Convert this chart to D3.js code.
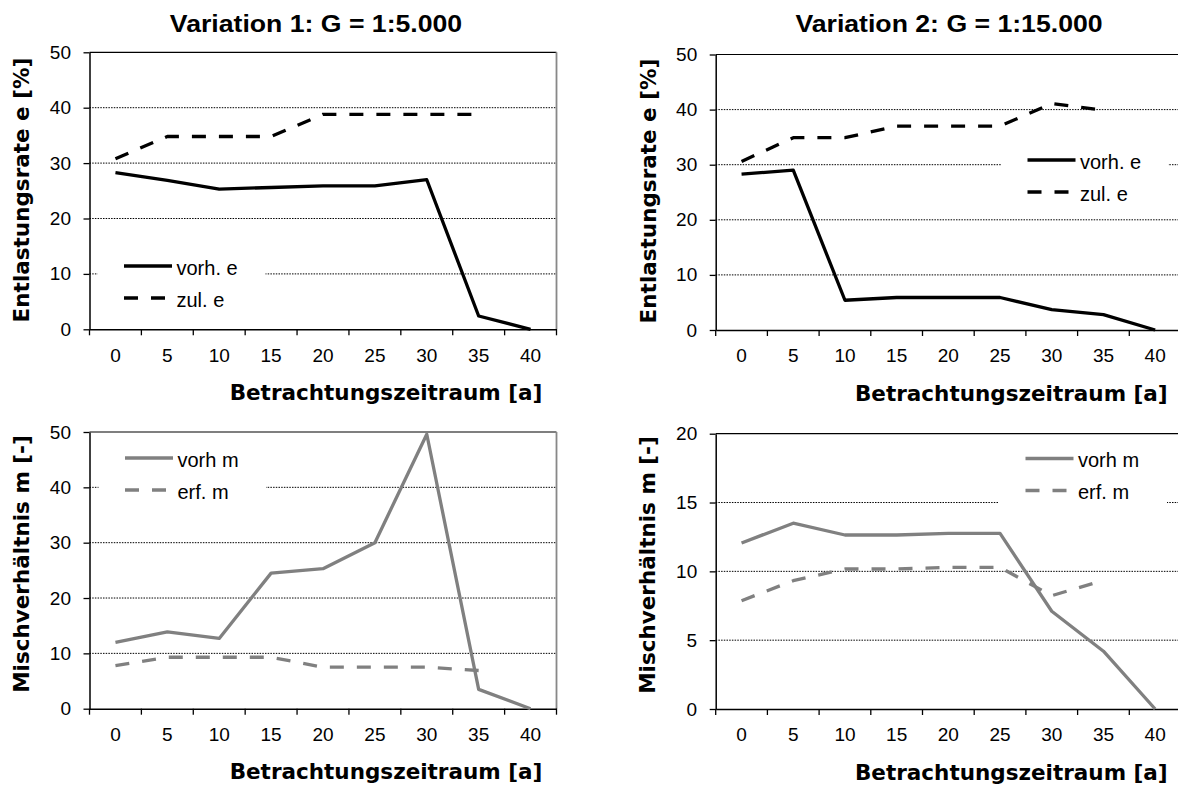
<!DOCTYPE html>
<html><head><meta charset="utf-8">
<script src="https://cdn.jsdelivr.net/npm/d3@7"></script>
<style>body{margin:0;background:#fff;} svg{display:block;}</style>
</head><body>
<svg id="chart" width="1178" height="787"></svg>
<script>
// ---- data ----
const years = ["0","5","10","15","20","25","30","35","40"];
const v1VorhE = [28.3, 26.9, 25.3, 25.6, 25.9, 25.9, 27.0, 2.4, 0];
const v1ZulE  = [30.8, 34.8, 34.8, 34.8, 38.8, 38.8, 38.8, 38.8, null];
const v2VorhE = [28.3, 29.0, 5.4, 5.9, 5.9, 5.9, 3.7, 2.8, 0];
const v2ZulE  = [30.6, 34.9, 34.9, 37.0, 37.0, 37.0, 41.1, 39.9, null];
const v1VorhM = [12.0, 13.9, 12.7, 24.5, 25.3, 30.0, 49.6, 3.5, 0];
const v1ErfM  = [7.8, 9.3, 9.3, 9.3, 7.5, 7.5, 7.5, 6.9, null];
const v2VorhM = [12.06, 13.5, 12.64, 12.64, 12.76, 12.76, 7.1, 4.2, 0];
const v2ErfM  = [7.87, 9.32, 10.17, 10.17, 10.29, 10.29, 8.23, 9.35, null];
const eTicks  = [0, 10, 20, 30, 40, 50];
const m1Ticks = [0, 10, 20, 30, 40, 50];
const m2Ticks = [0, 5, 10, 15, 20];
const titles  = ["Variation 1: G = 1:5.000", "Variation 2: G = 1:15.000"];
const xTitle  = "Betrachtungszeitraum [a]";
const yTitleE = "Entlastungsrate e [%]";
const yTitleM = "Mischverhältnis m [-]";
const legendE = ["vorh. e", "zul. e"];
const legendM = ["vorh m", "erf. m"];

// ---- layout ----
const panels = [
  {l:89.5, r:556.5, t:52.3, b:329.3, ticks:eTicks, s:[v1VorhE, v1ZulE], col:"#000", leg:legendE, yt:yTitleE, ytx:21.6, yty:190,
   box:{x0:97.5, x1:265.5, y1:266, y2:298}, title:titles[0], tx:316},
  {l:715.7, r:1181, t:54.5, b:330, ticks:eTicks, s:[v2VorhE, v2ZulE], col:"#000", leg:legendE, yt:yTitleE, ytx:648, yty:191,
   box:{x0:1001, x1:1168, y1:160, y2:192}, title:titles[1], tx:949},
  {l:89.5, r:556.5, t:432, b:708.7, ticks:m1Ticks, s:[v1VorhM, v1ErfM], col:"#808080", leg:legendM, yt:yTitleM, ytx:21.6, yty:564,
   box:{x0:98.5, x1:266, y1:458, y2:490}},
  {l:715.7, r:1181, t:433.7, b:709, ticks:m2Ticks, s:[v2VorhM, v2ErfM], col:"#808080", leg:legendM, yt:yTitleM, ytx:647, yty:565,
   box:{x0:999, x1:1167, y1:458.5, y2:490.5}}
];

const svg = d3.select("#chart");
const tickFont = "'Liberation Sans', Arial, sans-serif";
const boldFont = "'DejaVu Sans', Verdana, sans-serif";

panels.forEach(p => {
  const g = svg.append("g");
  const x = d3.scaleBand().domain(years).range([p.l, p.r]).paddingInner(0).paddingOuter(0);
  const y = d3.scaleLinear().domain([0, d3.max(p.ticks)]).range([p.b, p.t]);
  const bw = x.bandwidth();

  // gridlines
  g.append("g").selectAll("line").data(p.ticks.filter(v => v > 0 && v < d3.max(p.ticks)))
    .join("line").attr("x1", p.l).attr("x2", p.r).attr("y1", d => y(d)).attr("y2", d => y(d))
    .attr("stroke", "#000").attr("stroke-width", 1).attr("stroke-dasharray", "1.5,1.2");
  // top border
  g.append("line").attr("x1", p.l).attr("x2", p.r).attr("y1", y(d3.max(p.ticks))).attr("y2", y(d3.max(p.ticks)))
    .attr("stroke", "#000").attr("stroke-width", 1.2);
  // right border
  g.append("line").attr("x1", p.r).attr("x2", p.r).attr("y1", p.t).attr("y2", p.b)
    .attr("stroke", "#888").attr("stroke-width", 1.8);

  // y axis
  const ya = g.append("g").attr("transform", `translate(${p.l},0)`)
    .call(d3.axisLeft(y).tickValues(p.ticks).tickSize(6).tickSizeOuter(0).tickPadding(12.5).tickFormat(d3.format("d")));
  ya.select(".domain").attr("stroke", "#000").attr("stroke-width", 1.5);
  ya.selectAll(".tick line").attr("stroke", "#000").attr("stroke-width", 1.3);
  ya.selectAll("text").attr("font-family", tickFont).attr("font-size", 19).attr("fill", "#000");

  // x axis
  const xa = g.append("g").attr("transform", `translate(0,${p.b})`)
    .call(d3.axisBottom(x).tickSize(0).tickSizeOuter(0).tickPadding(19));
  xa.select(".domain").attr("stroke", "#000").attr("stroke-width", 1.5);
  xa.selectAll("text").attr("font-family", tickFont).attr("font-size", 19).attr("fill", "#000");
  // boundary ticks
  const bounds = years.map(c => x(c)).concat([x.range()[1]]);
  g.append("g").selectAll("line").data(bounds).join("line")
    .attr("x1", d => d).attr("x2", d => d).attr("y1", p.b).attr("y2", p.b + 6)
    .attr("stroke", "#000").attr("stroke-width", 1.3);

  // axis titles
  g.append("text").attr("x", (p.l + p.r) / 2 + 63).attr("y", p.b + 70.7)
    .attr("text-anchor", "middle").attr("font-family", boldFont).attr("font-weight", "bold")
    .attr("font-size", 21.5).attr("fill", "#000").text(xTitle);
  g.append("text").attr("transform", `translate(${p.ytx},${p.yty}) rotate(-90)`)
    .attr("text-anchor", "middle").attr("dominant-baseline", "central")
    .attr("font-family", boldFont).attr("font-weight", "bold")
    .attr("font-size", 21.5).attr("fill", "#000").text(p.yt);

  // title
  if (p.title) {
    g.append("text").attr("transform", `translate(${p.tx},31.7) scale(1.11,1)`)
      .attr("text-anchor", "middle").attr("font-family", tickFont).attr("font-weight", "bold")
      .attr("font-size", 24).attr("fill", "#000").text(p.title);
  }

  // data lines
  const line = d3.line().defined(d => d != null)
    .x((d, i) => x(years[i]) + bw / 2).y(d => y(d));
  p.s.forEach((arr, k) => {
    g.append("path").datum(arr).attr("d", line).attr("fill", "none")
      .attr("stroke", p.col).attr("stroke-width", 3.3).attr("stroke-linejoin", "round")
      .attr("stroke-dasharray", k === 1 ? "14,13" : null);
  });

  // legend
  const bx = p.box;
  g.append("rect").attr("x", bx.x0).attr("y", bx.y1 - 20).attr("width", bx.x1 - bx.x0).attr("height", bx.y2 - bx.y1 + 40)
    .attr("fill", "#fff");
  [bx.y1, bx.y2].forEach((ly, k) => {
    g.append("line").attr("x1", bx.x0 + 26.5).attr("x2", bx.x0 + 74.5).attr("y1", ly).attr("y2", ly)
      .attr("stroke", p.col).attr("stroke-width", 3.3).attr("stroke-dasharray", k === 1 ? "14,13" : null);
    g.append("text").attr("x", bx.x0 + 79).attr("y", ly + 8.5)
      .attr("font-family", tickFont).attr("font-size", 20).attr("fill", "#000").text(p.leg[k]);
  });
});
</script>
</body></html>
